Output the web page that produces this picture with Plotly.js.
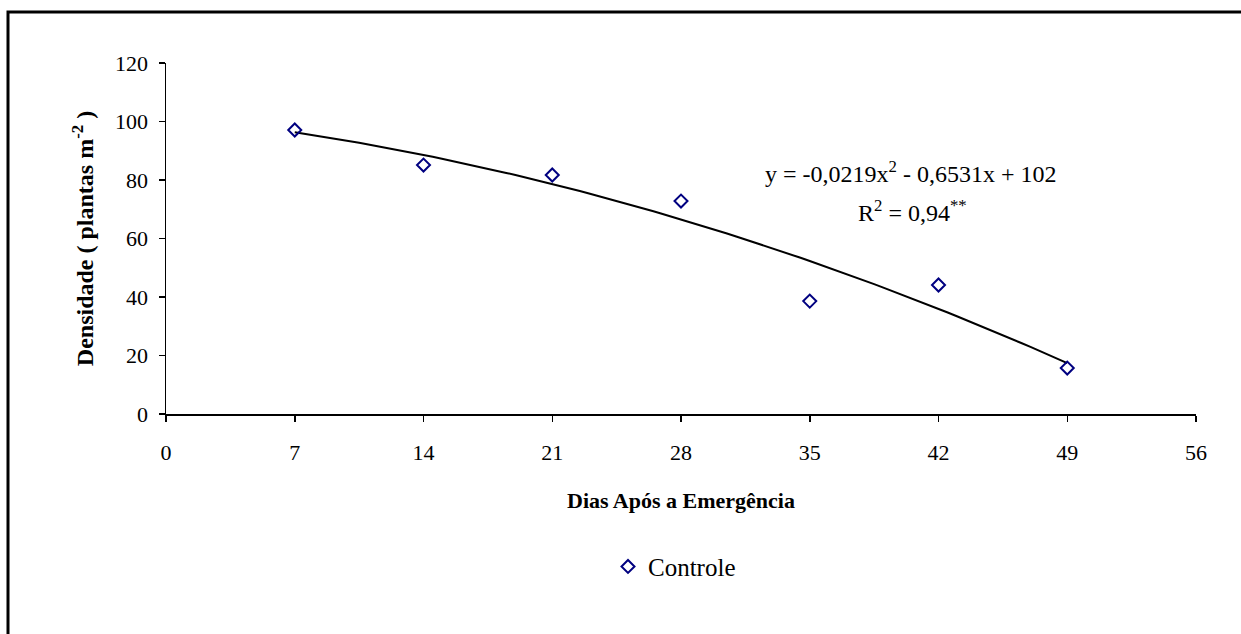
<!DOCTYPE html>
<html>
<head>
<meta charset="utf-8">
<script src="https://cdn.plot.ly/plotly-3.0.1.min.js"></script>
<style>
  html, body { margin: 0; padding: 0; background: #fff; }
  #chart { width: 1241px; height: 634px; }
</style>
</head>
<body>
<div id="chart"></div>
<script>
// Plant density over days after emergence
const days = [7, 14, 21, 28, 35, 42, 49];
const density = [97.1, 85.1, 81.7, 72.8, 38.6, 44.1, 15.7];

// Quadratic fit coefficients (a*x^2 + b*x + c) shown in the equation label
const fitCoef = [-0.0219, -0.6531, 102];
const fitRange = [7, 49];

const fitX = [];
const fitY = [];
for (let x = fitRange[0]; x <= fitRange[1] + 1e-9; x += 0.5) {
  fitX.push(x);
  fitY.push(fitCoef[0] * x * x + fitCoef[1] * x + fitCoef[2]);
}

const serif = 'Liberation Serif';

const traces = [
  {
    x: fitX, y: fitY, mode: 'lines', type: 'scatter',
    line: { color: '#000000', width: 2 },
    showlegend: false, hoverinfo: 'skip'
  },
  {
    x: days, y: density, mode: 'markers', type: 'scatter', name: 'Controle',
    marker: { symbol: 'diamond-open', size: 10, color: '#000080', line: { width: 2, color: '#000080' } }
  }
];

const layout = {
  width: 1241, height: 634,
  margin: { l: 166, r: 45, t: 63, b: 220 },
  paper_bgcolor: '#ffffff', plot_bgcolor: '#ffffff',
  font: { family: serif, size: 22, color: '#000000' },
  showlegend: true,
  legend: {
    orientation: 'h', x: (608 - 166) / 1030, xanchor: 'left', y: -0.435, yanchor: 'middle',
    itemwidth: 30,
    font: { family: serif, size: 25, color: '#000000' }
  },
  xaxis: {
    range: [0, 56], tickvals: [0, 7, 14, 21, 28, 35, 42, 49, 56],
    showgrid: false, zeroline: false, showline: true, linecolor: '#000', linewidth: 1.5,
    ticks: 'outside', ticklen: 6, tickwidth: 1.5, tickcolor: '#000',
    ticklabelstandoff: 12,
    tickfont: { family: serif, size: 22 },
    title: { text: '<b>Dias Após a Emergência</b>', font: { family: serif, size: 22, weight: 'bold' }, standoff: 28 }
  },
  yaxis: {
    range: [0, 120], tickvals: [0, 20, 40, 60, 80, 100, 120],
    showgrid: false, zeroline: false, showline: true, linecolor: '#000', linewidth: 1.5,
    ticks: 'outside', ticklen: 6, tickwidth: 1.5, tickcolor: '#000',
    ticklabelstandoff: 6,
    tickfont: { family: serif, size: 22 },
    title: { text: '<b>Densidade ( plantas m<sup>-2</sup> )</b>', font: { family: serif, size: 24, weight: 'bold' }, standoff: 14 }
  },
  annotations: [
    {
      xref: 'paper', yref: 'paper', x: (910 - 166) / 1030, y: (414 - 172) / 351,
      xanchor: 'center', yanchor: 'middle', showarrow: false,
      text: 'y = -0,0219x<sup>2</sup> - 0,6531x + 102',
      font: { family: serif, size: 24, color: '#000' }
    },
    {
      xref: 'paper', yref: 'paper', x: (912 - 166) / 1030, y: (414 - 211) / 351,
      xanchor: 'center', yanchor: 'middle', showarrow: false,
      text: 'R<sup>2</sup> = 0,94<sup>**</sup>',
      font: { family: serif, size: 24, color: '#000' }
    }
  ],
  shapes: [
    {
      type: 'rect', xref: 'paper', yref: 'paper',
      x0: (8 - 166) / 1030, x1: (1260 - 166) / 1030,
      y0: (414 - 660) / 351, y1: (414 - 12) / 351,
      line: { color: '#000', width: 3 }, fillcolor: 'rgba(0,0,0,0)', layer: 'below'
    }
  ]
};

Plotly.newPlot('chart', traces, layout, { displayModeBar: false, staticPlot: true });
</script>
</body>
</html>
